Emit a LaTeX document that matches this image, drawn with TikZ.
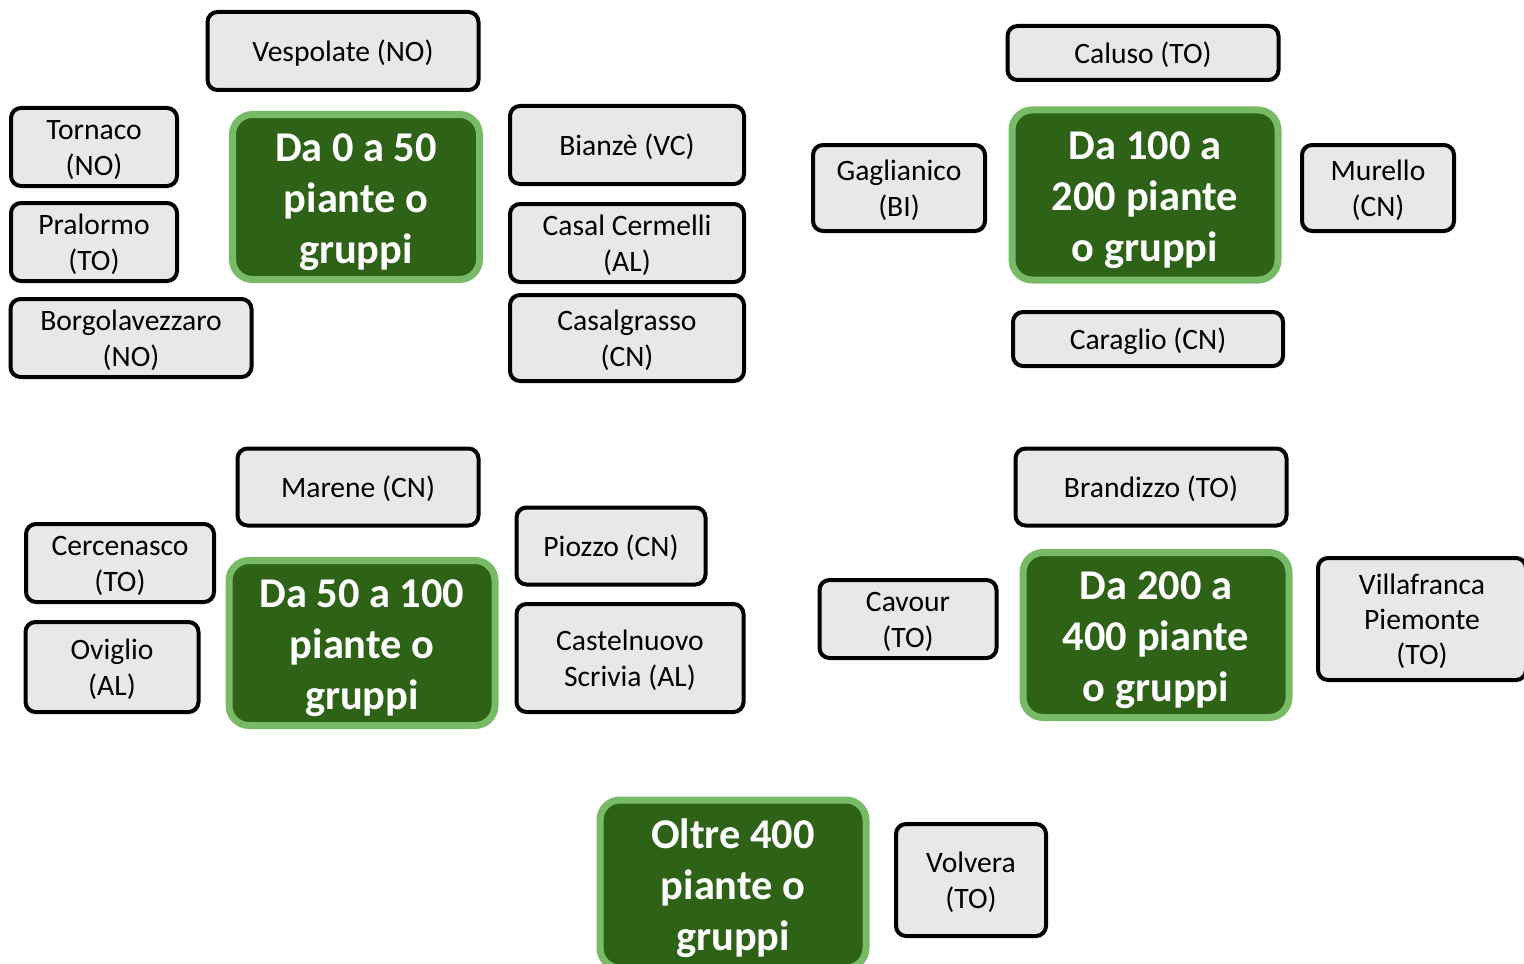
\documentclass[tikz,border=0pt]{standalone}
\usepackage{fontspec}
\setmainfont{Carlito}
\definecolor{gfill}{HTML}{2D6217}
\definecolor{gline}{HTML}{77BB66}
\definecolor{bfill}{HTML}{E8E8E8}
\newcommand\Tx[1]{\raisebox{-1.75pt}[\height][\depth]{\begin{tabular}{@{}c@{}}#1\end{tabular}}}
\newcommand\Gx[1]{\raisebox{-2.5pt}[\height][\depth]{\begin{tabular}{@{}c@{}}#1\end{tabular}}}
\begin{document}
\begin{tikzpicture}[x=0.5pt,y=-0.5pt,
  loc/.style={draw=black,line width=2pt,fill=bfill,rounded corners=5pt,inner sep=0pt,font=\fontsize{14.8}{17.6}\selectfont},
  cat/.style={draw=gline,line width=3.5pt,fill=gfill,rounded corners=10pt,inner sep=0pt,text=white,font=\fontsize{21.2}{25.6}\selectfont\bfseries}]
\useasboundingbox (0,0) rectangle (1524,963);
\clip (0,0) rectangle (1524,963);
% group 1
\node[cat,minimum width=123.5pt,minimum height=82.5pt] (c1) at (356,197) {\Gx{Da 0 a 50\\piante o\\gruppi}};
\node[loc,minimum width=135.5pt,minimum height=39pt] (l1) at (343,51) {\Tx{Vespolate (NO)}};
\node[loc,minimum width=83pt,minimum height=39pt] (l2) at (94,147) {\Tx{Tornaco\\(NO)}};
\node[loc,minimum width=83pt,minimum height=39pt] (l3) at (94,242) {\Tx{Pralormo\\(TO)}};
\node[loc,minimum width=120.5pt,minimum height=39pt] (l4) at (131,338) {\Tx{Borgolavezzaro\\(NO)}};
\node[loc,minimum width=117pt,minimum height=39pt] (l5) at (627,145) {\Tx{Bianzè (VC)}};
\node[loc,minimum width=117pt,minimum height=39pt] (l6) at (627,243) {\Tx{Casal Cermelli\\(AL)}};
\node[loc,minimum width=117pt,minimum height=43pt] (l7) at (627,338) {\Tx{Casalgrasso\\(CN)}};
% group 2
\node[cat,minimum width=133pt,minimum height=85pt] (c2) at (1145,195) {\Gx{Da 100 a\\200 piante\\o gruppi}};
\node[loc,minimum width=135.5pt,minimum height=27pt] (m1) at (1143,53) {\Tx{Caluso (TO)}};
\node[loc,minimum width=86pt,minimum height=43pt] (m2) at (899,188) {\Tx{Gaglianico\\(BI)}};
\node[loc,minimum width=76pt,minimum height=43pt] (m3) at (1378,188) {\Tx{Murello\\(CN)}};
\node[loc,minimum width=135pt,minimum height=27pt] (m4) at (1148,339) {\Tx{Caraglio (CN)}};
% group 3
\node[cat,minimum width=133pt,minimum height=82.5pt] (c3) at (362,643) {\Gx{Da 50 a 100\\piante o\\gruppi}};
\node[loc,minimum width=120.5pt,minimum height=38.5pt] (n1) at (358,487) {\Tx{Marene (CN)}};
\node[loc,minimum width=94pt,minimum height=39pt] (n2) at (120,563) {\Tx{Cercenasco\\(TO)}};
\node[loc,minimum width=86.5pt,minimum height=45pt] (n3) at (112,667) {\Tx{Oviglio\\(AL)}};
\node[loc,minimum width=94.5pt,minimum height=38.5pt] (n4) at (611,546) {\Tx{Piozzo (CN)}};
\node[loc,minimum width=113.5pt,minimum height=54pt] (n5) at (630,658) {\Tx{Castelnuovo\\Scrivia (AL)}};
% group 4
\node[cat,minimum width=133pt,minimum height=82.5pt] (c4) at (1156,635) {\Gx{Da 200 a\\400 piante\\o gruppi}};
\node[loc,minimum width=135.5pt,minimum height=38.5pt] (p1) at (1151,487) {\Tx{Brandizzo (TO)}};
\node[loc,minimum width=88.5pt,minimum height=39pt] (p2) at (908,619) {\Tx{Cavour\\(TO)}};
\node[loc,minimum width=104pt,minimum height=61pt] (p3) at (1422,619) {\Tx{Villafranca\\Piemonte\\(TO)}};
% group 5
\node[cat,minimum width=133pt,minimum height=84pt] (c5) at (733,884) {\Gx{Oltre 400\\piante o\\gruppi}};
\node[loc,minimum width=75pt,minimum height=56pt] (q1) at (971,880) {\Tx{Volvera\\(TO)}};
\end{tikzpicture}
\end{document}
